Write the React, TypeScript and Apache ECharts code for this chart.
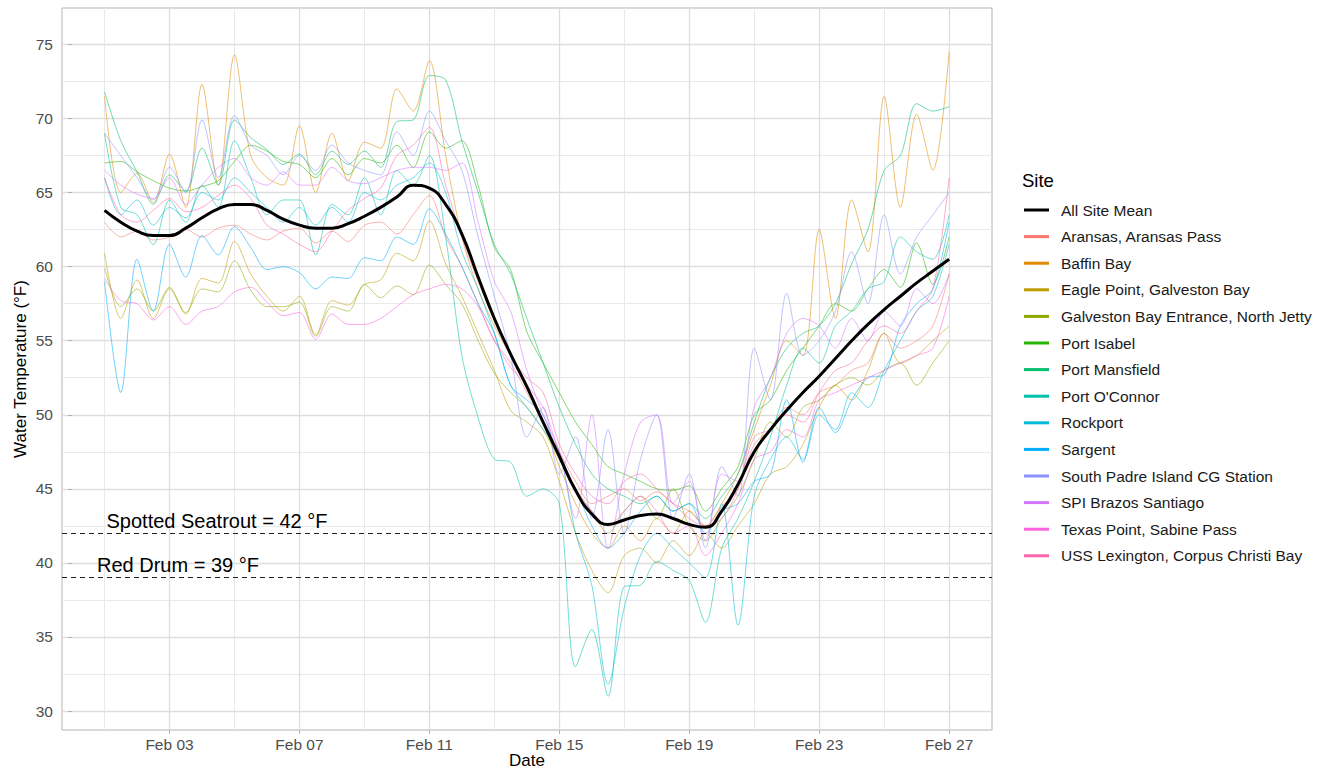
import React, { useEffect, useRef } from "react";
import * as echarts from "echarts";

// Half-day time stamps (day of February)
const days = [1,1.5,2,2.5,3,3.5,4,4.5,5,5.5,6,6.5,7,7.5,8,8.5,9,9.5,10,10.5,11,11.5,12,12.5,13,13.5,14,14.5,15,15.5,16,16.5,17,17.5,18,18.5,19,19.5,20,20.5,21,21.5,22,22.5,23,23.5,24,24.5,25,25.5,26,26.5,27];

const siteNames = [
  "Aransas, Aransas Pass",
  "Baffin Bay",
  "Eagle Point, Galveston Bay",
  "Galveston Bay Entrance, North Jetty",
  "Port Isabel",
  "Port Mansfield",
  "Port O'Connor",
  "Rockport",
  "Sargent",
  "South Padre Island CG Station",
  "SPI Brazos Santiago",
  "Texas Point, Sabine Pass",
  "USS Lexington, Corpus Christi Bay",
];
const siteColors = ["#F8766D","#E18A00","#BE9C00","#8CAB00","#24B700","#00BE70","#00C1AB","#00BBDA","#00ACFC","#8B93FF","#D575FE","#F962DD","#FF65AC"];

const aransas = [
  63.0,62.0, 62.4,61.8, 62.0,62.5, 62.0,62.6, 62.8,62.2, 61.8,62.4, 62.6,61.6, 62.4,61.7, 62.8,63.0,
  62.2,63.5, 64.8,62.0, 60.0,57.5, 55.0,53.5, 51.5,49.5, 47.5,45.5, 44.0,44.5, 45.0,44.2, 44.8,44.0,
  43.5,42.5, 43.8,45.0, 48.0,49.0, 50.5,50.0, 51.5,52.0, 53.0,53.5, 55.5,54.5, 55.0,56.0, 59.5];
const baffinBay = [
  71.5,65.0, 66.3,64.3, 67.6,64.0, 72.3,65.5, 74.3,67.5, 66.0,65.5, 69.5,65.0, 69.0,65.8, 68.4,68.0,
  72.0,70.5, 73.9,67.5, 62.0,58.5, 56.0,54.0, 52.0,49.5, 46.5,44.0, 42.0,41.0, 42.5,41.5, 43.0,42.0,
  43.5,42.5, 44.0,46.0, 49.0,52.0, 55.0,54.0, 62.5,56.5, 64.5,61.0, 71.5,64.0, 70.3,66.5, 74.5];
const eaglePoint = [
  60.9,56.5, 59.1,56.5, 58.5,56.8, 59.2,58.9, 61.7,59.5, 58.0,57.0, 58.0,55.4, 57.7,57.4, 58.8,59.1,
  60.9,60.4, 63.1,60.2, 58.0,55.5, 53.0,50.3, 49.5,48.5, 45.5,42.0, 39.5,38.0, 40.5,41.0, 40.0,41.5,
  40.5,42.0, 41.0,42.5, 44.0,46.0, 46.5,48.0, 50.5,52.0, 51.0,53.0, 55.5,53.5, 54.0,55.0, 56.0];
const galvestonEntrance = [
  59.9,57.3, 58.5,57.0, 58.6,56.9, 58.5,58.3, 60.4,58.4, 57.3,57.3, 57.6,55.3, 57.3,57.0, 58.8,57.9,
  58.7,58.1, 60.1,58.8, 57.5,55.0, 52.8,51.5, 50.5,49.0, 47.0,45.0, 43.5,42.0, 43.5,44.5, 43.0,45.0,
  42.5,41.5, 43.0,44.5, 47.0,49.5, 48.5,50.5, 51.0,52.0, 52.5,52.0, 53.0,53.5, 52.0,53.5, 55.0];
const portIsabel = [
  67.0,67.1, 66.4,65.8, 65.3,65.1, 65.4,65.8, 67.1,68.2, 67.8,67.1, 66.9,66.0, 67.3,66.2, 67.3,67.0,
  68.2,66.7, 69.1,68.0, 68.5,65.5, 61.3,59.8, 55.6,53.5, 51.5,49.5, 48.0,46.5, 46.0,45.5, 45.0,44.9,
  45.2,43.5, 45.0,46.5, 50.0,51.0, 53.0,54.5, 56.0,57.5, 57.0,58.5, 59.8,58.6, 61.6,58.8, 62.0];
const portMansfield = [
  71.8,68.5, 66.4,64.2, 66.2,65.1, 68.0,65.5, 69.9,68.7, 67.9,66.9, 67.6,66.2, 67.8,66.9, 67.8,66.7,
  69.8,69.9, 72.9,72.6, 68.5,65.0, 61.5,59.5, 56.5,53.5, 50.5,48.0, 46.0,45.0, 44.5,44.0, 44.5,43.5,
  44.0,43.0, 44.5,46.0, 49.5,52.5, 54.5,55.5, 56.0,57.5, 60.2,62.5, 66.5,67.5, 71.0,70.5, 70.8];
const portOConnor = [
  69.0,64.0, 63.5,61.5, 64.5,63.0, 65.5,64.0, 68.5,66.0, 63.5,64.5, 64.5,60.8, 64.2,63.5, 66.0,63.5,
  66.5,65.5, 67.5,62.0, 54.0,49.8, 47.0,46.8, 44.5,45.0, 44.0,33.0, 35.5,31.0, 38.4,38.5, 40.1,39.5,
  38.8,36.0, 41.0,43.0, 45.5,48.5, 52.0,54.5, 53.5,56.0, 57.0,58.5, 59.0,62.0, 61.0,60.5, 63.5];
const rockport = [
  66.0,63.5, 64.5,62.8, 64.0,63.3, 65.0,64.5, 66.0,65.0, 64.0,63.0, 64.0,62.8, 64.0,63.0, 65.0,64.5,
  65.5,66.0, 67.0,65.0, 61.0,58.5, 55.5,52.0, 50.5,49.0, 47.5,42.0, 38.5,31.8, 37.0,40.5, 42.0,41.0,
  40.0,39.0, 44.0,35.8, 44.5,47.0, 48.5,47.0, 50.0,49.0, 51.5,50.5, 53.0,55.0, 57.0,58.0, 61.5];
const sargent = [
  59.0,51.5, 60.5,57.0, 61.5,59.3, 62.1,60.8, 62.7,61.3, 59.8,60.0, 59.6,58.5, 59.3,59.2, 60.6,60.4,
  62.0,61.5, 63.9,62.2, 60.0,57.5, 55.5,52.0, 51.0,50.0, 47.0,45.0, 42.5,41.0, 42.0,43.5, 44.5,43.5,
  44.0,42.0, 43.5,44.0, 45.5,46.0, 51.0,46.8, 50.5,48.8, 51.0,52.5, 52.7,56.0, 57.5,58.5, 63.0];
const spiCgStation = [
  69.0,67.5, 66.0,64.5, 66.7,65.0, 69.9,66.0, 70.2,68.2, 67.5,66.2, 67.5,66.5, 68.2,67.0, 66.5,66.2,
  69.1,67.5, 70.5,68.5, 66.5,62.0, 58.0,54.0, 48.5,50.5, 46.0,48.5, 43.0,49.0, 42.0,47.0, 50.0,43.0,
  46.0,41.0, 46.5,44.5, 54.5,51.0, 58.2,54.0, 55.0,57.0, 61.0,57.5, 63.5,59.5, 62.0,63.5, 65.0];
const spiBrazos = [
  66.5,65.5, 64.9,64.6, 66.0,64.2, 65.5,66.7, 67.3,66.0, 65.5,66.4, 65.5,65.5, 66.7,65.8, 65.6,66.0,
  66.5,66.7, 66.7,66.5, 67.0,63.0, 59.0,57.0, 53.0,50.0, 47.5,43.0, 50.0,41.0, 46.0,49.5, 50.0,44.0,
  45.5,41.5, 46.0,45.5, 50.5,52.5, 55.5,56.5, 56.0,54.5, 56.5,55.0, 57.0,56.0, 58.5,57.5, 59.5];
const texasPoint = [
  59.2,57.7, 57.5,56.4, 57.3,56.1, 57.0,57.3, 58.3,58.6, 57.6,56.7, 56.9,55.1, 56.8,56.1, 56.1,56.5,
  57.3,58.1, 58.5,58.8, 58.5,57.3, 55.0,53.2, 52.0,50.5, 47.5,45.0, 43.5,42.5, 43.5,44.5, 43.5,42.0,
  42.5,40.5, 42.0,44.0, 47.0,47.5, 49.0,48.5, 51.0,51.5, 52.0,52.5, 53.0,53.5, 54.0,54.5, 58.0];
const ussLexington = [
  66.0,63.5, 63.0,63.8, 64.6,63.7, 64.0,64.8, 65.5,64.6, 62.8,62.2, 61.5,61.0, 62.4,63.8, 64.6,65.3,
  67.5,68.2, 69.4,65.5, 62.0,59.0, 56.5,54.0, 52.5,51.5, 48.0,46.0, 44.5,44.0, 45.5,46.0, 45.0,44.0,
  43.0,42.5, 43.0,45.0, 48.5,49.0, 50.0,49.5, 51.5,53.0, 53.5,55.0, 56.0,55.5, 57.0,58.5, 66.0];
const allSiteMean = [
  63.8,63.0, 62.4,62.1, 62.1,62.6, 63.3,63.9, 64.2,64.2, 63.8,63.2, 62.8,62.6, 62.6,62.9, 63.4,64.0,
  64.7,65.5, 65.3,64.2, 62.2,59.3, 56.5,54.1, 51.9,49.5, 47.2,44.9, 43.3,42.6, 42.9,43.2, 43.3,43.0,
  42.6,42.4, 43.5,45.3, 47.5,49.0, 50.3,51.5, 52.6,53.8, 55.0,56.1, 57.1,58.0, 58.9,59.7, 60.5];

const siteValues = [aransas, baffinBay, eaglePoint, galvestonEntrance, portIsabel, portMansfield, portOConnor, rockport, sargent, spiCgStation, spiBrazos, texasPoint, ussLexington];

const xMajorTicks = [3, 7, 11, 15, 19, 23, 27];
const xMinorTicks = [1, 5, 9, 13, 17, 21, 25];
const yMajorTicks = [30, 35, 40, 45, 50, 55, 60, 65, 70, 75];
const yMinorTicks = [32.5, 37.5, 42.5, 47.5, 52.5, 57.5, 62.5, 67.5, 72.5];

const thresholdValues = [42, 39];
const thresholdLabels = ["Spotted Seatrout = 42 °F", "Red Drum = 39 °F"];
const thresholdLabelAnchors = [[4.46, 42.86], [3.26, 39.89]];

const FONT = "'Liberation Sans', Arial, Helvetica, sans-serif";

export default function App() {
  const ref = useRef<HTMLDivElement>(null);
  useEffect(() => {
    if (!ref.current) return;
    const chart = echarts.init(ref.current, undefined, { renderer: "svg" });

    const siteSeries = siteNames.map((name, i) => ({
      type: "line",
      name,
      data: days.map((d, j) => [d, siteValues[i][j]]),
      showSymbol: false,
      symbol: "none",
      smooth: 0.3,
      color: siteColors[i],
      itemStyle: { color: siteColors[i] },
      lineStyle: { width: 1, opacity: 0.55 },
      z: 2,
      silent: true,
    }));

    const meanSeries = {
      type: "line",
      name: "All Site Mean",
      data: days.map((d, j) => [d, allSiteMean[j]]),
      showSymbol: false,
      symbol: "none",
      smooth: 0.5,
      color: "#000000",
      itemStyle: { color: "#000000" },
      lineStyle: { width: 3, color: "#000000" },
      z: 3,
      silent: true,
    };

    const gridSeries = {
      type: "line",
      name: "__grid",
      data: [],
      silent: true,
      z: 0,
      markLine: {
        silent: true,
        z: 0,
        symbol: ["none", "none"],
        label: { show: false },
        emphasis: { disabled: true },
        data: [
          ...xMinorTicks.map((v) => ({ xAxis: v, lineStyle: { color: "#E9E9E9", width: 1, type: "solid" } })),
          ...yMinorTicks.map((v) => ({ yAxis: v, lineStyle: { color: "#E9E9E9", width: 1, type: "solid" } })),
          ...xMajorTicks.map((v) => ({ xAxis: v, lineStyle: { color: "#DEDEDE", width: 1.3, type: "solid" } })),
          ...yMajorTicks.map((v) => ({ yAxis: v, lineStyle: { color: "#DEDEDE", width: 1.3, type: "solid" } })),
        ],
      },
    };

    const thresholdSeries = {
      type: "line",
      name: "__thresholds",
      data: [],
      silent: true,
      z: 4,
      markLine: {
        silent: true,
        z: 4,
        symbol: ["none", "none"],
        label: { show: false },
        emphasis: { disabled: true },
        lineStyle: { color: "#222222", width: 1, type: [5, 4] },
        data: thresholdValues.map((v) => ({ yAxis: v })),
      },
      markPoint: {
        silent: true,
        symbol: "circle",
        symbolSize: 0,
        itemStyle: { color: "transparent" },
        label: { show: true, position: "inside", color: "#000000", fontSize: 20, fontFamily: FONT },
        data: thresholdLabels.map((t, i) => ({
          coord: thresholdLabelAnchors[i],
          value: thresholdValues[i],
          label: { formatter: t },
        })),
      },
    };

    const legendNames = ["All Site Mean", ...siteNames];
    const legendColors = ["#000000", ...siteColors];

    const fmtDay = (v: number) => "Feb " + String(Math.round(v)).padStart(2, "0");

    chart.setOption({
      animation: false,
      textStyle: { fontFamily: FONT },
      backgroundColor: "#ffffff",
      grid: {
        left: 62,
        top: 8,
        width: 930,
        height: 722,
        outerBoundsMode: "none",
        containLabel: false,
        show: true,
        borderColor: "#B3B3B3",
        borderWidth: 1,
        backgroundColor: "transparent",
      },
      xAxis: {
        type: "value",
        min: -0.31,
        max: 28.32,
        name: "Date",
        nameLocation: "middle",
        nameGap: 22,
        nameMoveOverlap: false,
        nameTextStyle: { fontSize: 17, color: "#000000", fontFamily: FONT },
        axisLine: { show: false },
        axisTick: { show: true, customValues: xMajorTicks, length: 4, lineStyle: { color: "#B3B3B3" } },
        axisLabel: { customValues: xMajorTicks, formatter: fmtDay, color: "#4D4D4D", fontSize: 15.5, margin: 6, fontFamily: FONT },
        splitLine: { show: false },
      },
      yAxis: {
        type: "value",
        min: 28.72,
        max: 77.46,
        name: "Water Temperature (°F)",
        nameLocation: "middle",
        nameGap: 33.5,
        nameMoveOverlap: false,
        nameTextStyle: { fontSize: 17, color: "#000000", fontFamily: FONT },
        axisLine: { show: false },
        axisTick: { show: true, customValues: yMajorTicks, length: 4, lineStyle: { color: "#B3B3B3" } },
        axisLabel: { customValues: yMajorTicks, color: "#4D4D4D", fontSize: 15.5, margin: 9, fontFamily: FONT },
        splitLine: { show: false },
      },
      legend: {
        orient: "vertical",
        left: 1024,
        top: 202,
        padding: 0,
        itemGap: 10.6,
        itemWidth: 25,
        itemHeight: 3,
        icon: "rect",
        selectedMode: false,
        textStyle: { fontSize: 15.5, color: "#1A1A1A", lineHeight: 16, padding: [0, 0, 0, 7], fontFamily: FONT },
        data: legendNames.map((n, i) => ({ name: n, itemStyle: { color: legendColors[i], opacity: 1 } })),
      },
      graphic: [
        {
          type: "text",
          left: 1022,
          top: 171,
          style: { text: "Site", fontSize: 18.5, fill: "#000000", fontFamily: FONT },
        },
      ],
      series: [gridSeries, ...siteSeries, meanSeries, thresholdSeries],
    });

    return () => chart.dispose();
  }, []);

  return (
    <div
      ref={ref}
      style={{ position: "fixed", left: 0, top: 0, width: 1330, height: 770, background: "#fff" }}
    />
  );
}
